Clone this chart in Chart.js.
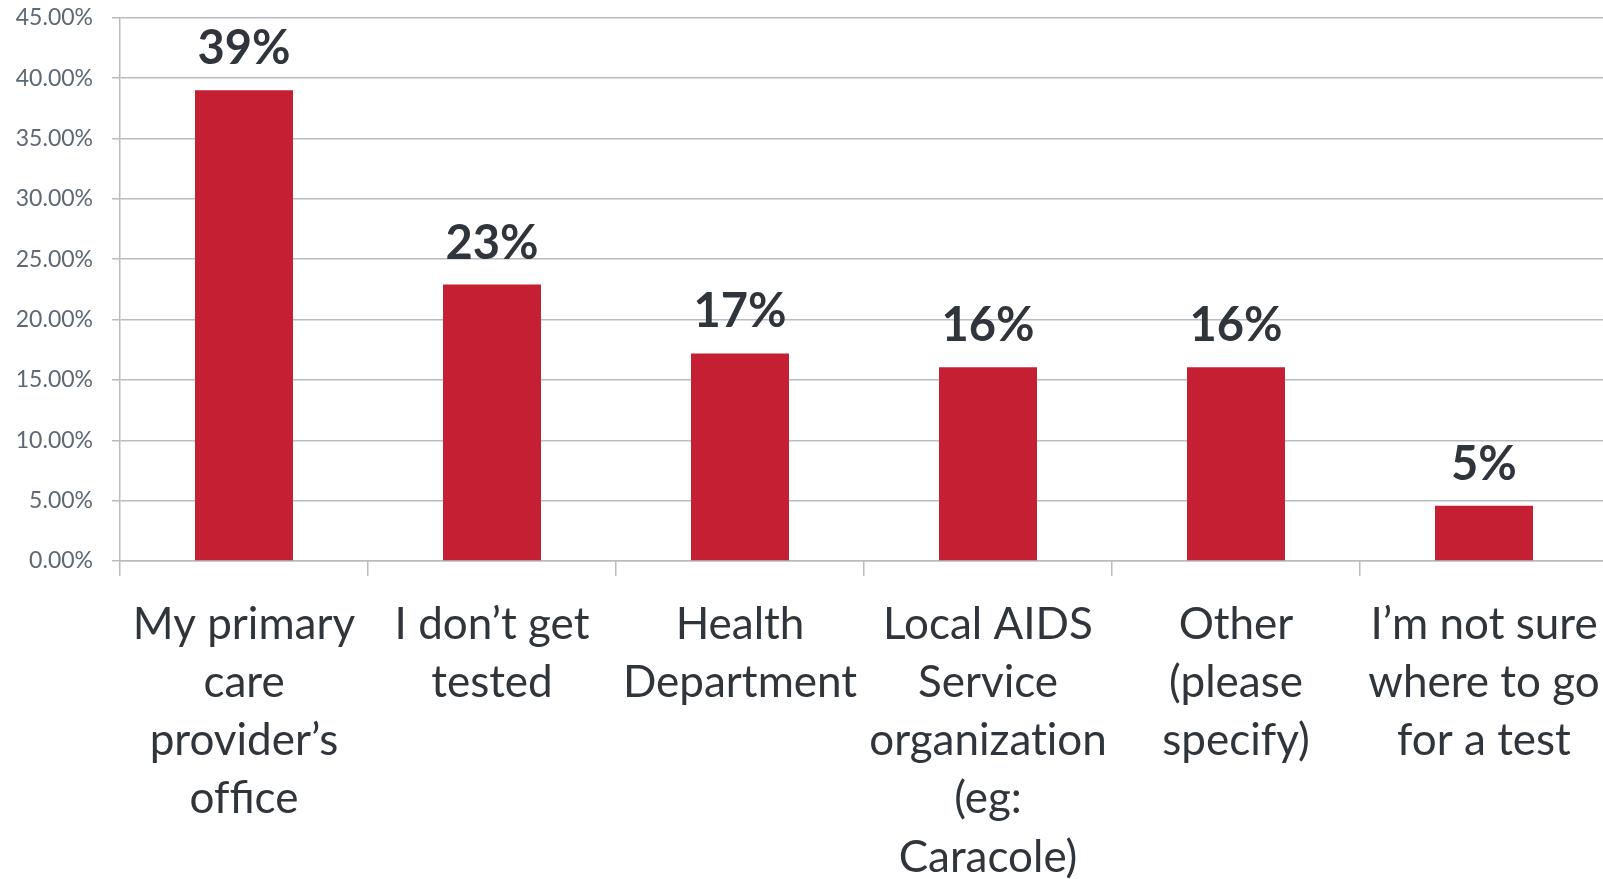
<!DOCTYPE html>
<html>
<head>
<meta charset="utf-8">
<script src="https://cdn.jsdelivr.net/npm/chart.js@4"></script>
<style>
  html, body { margin: 0; padding: 0; background: #fff; overflow: hidden; }
  /* shifted up a bit: the y tick padding also pads the top of the chart area */
  #wrap { position: relative; top: -15px; width: 1700px; height: 894px; }
</style>
</head>
<body>
<div id="wrap"><canvas id="testChart"></canvas></div>
<script>
// Where do you usually go for an HIV test?
// (zero-width non-joiner keeps Lato from drawing "ti" / "ffi" ligatures)
const categories = [
  ['My primary', 'care', 'provider\u2019s', 'of\u200Cfice'],
  ['I don\u2019t get', 'tested'],
  ['Health', 'Department'],
  ['Local AIDS', 'Service', 'organizat\u200Cion', '(eg:', 'Caracole)'],
  ['Other', '(please', 'specify)'],
  ['I\u2019m not sure', 'where to go', 'for a test']
];
const percentages = [39.0, 22.9, 17.2, 16.05, 16.05, 4.57];
const yTicks = [0, 5, 10, 15, 20, 25, 30, 35, 40, 45];

const barRed = '#c41f32';
const gridGray = '#b8bbbf';
const darkText = '#2f353a';

// big bold labels above every bar
const valueLabels = {
  id: 'valueLabels',
  afterDatasetsDraw(chart) {
    const ctx = chart.ctx;
    const meta = chart.getDatasetMeta(0);
    ctx.save();
    ctx.font = 'bold 47px Lato';
    ctx.fillStyle = darkText;
    ctx.textAlign = 'center';
    ctx.textBaseline = 'alphabetic';
    meta.data.forEach((bar, i) => {
      ctx.fillText(Math.round(percentages[i]) + '%', bar.x, bar.y - 26);
    });
    ctx.restore();
  }
};

const ctx = document.getElementById('testChart').getContext('2d');
new Chart(ctx, {
  type: 'bar',
  data: {
    labels: categories,
    datasets: [{
      data: percentages,
      backgroundColor: barRed,
      borderWidth: 0,
      barPercentage: 0.79,
      categoryPercentage: 0.5
    }]
  },
  options: {
    responsive: true,
    maintainAspectRatio: false,
    animation: false,
    layout: { padding: { top: 0, right: 92, left: 0, bottom: 0 } },
    plugins: {
      legend: { display: false },
      tooltip: { enabled: false }
    },
    scales: {
      x: {
        offset: true,
        grid: {
          offset: true,
          drawOnChartArea: false,
          drawTicks: true,
          tickLength: 15,
          color: gridGray,
          lineWidth: 1.5
        },
        border: { display: true, color: gridGray, width: 1.5 },
        ticks: {
          color: darkText,
          padding: 20,
          maxRotation: 0,
          autoSkip: false,
          font: { family: 'Lato', size: 44, lineHeight: 1.32 }
        },
        afterFit(scale) { scale.height = 318; }
      },
      y: {
        min: 0,
        max: 45,
        afterBuildTicks(scale) {
          scale.ticks = yTicks.map(v => ({ value: v }));
        },
        grid: {
          color: gridGray,
          lineWidth: 1.5,
          drawTicks: true,
          tickLength: 8
        },
        border: { display: true, color: gridGray, width: 1.5 },
        ticks: {
          color: '#5d6873',
          padding: 19,
          font: { family: 'Lato', size: 23 },
          callback: value => value.toFixed(2) + '%'
        },
        afterFit(scale) { scale.width = 120; }
      }
    }
  },
  plugins: [valueLabels]
});
</script>
</body>
</html>
